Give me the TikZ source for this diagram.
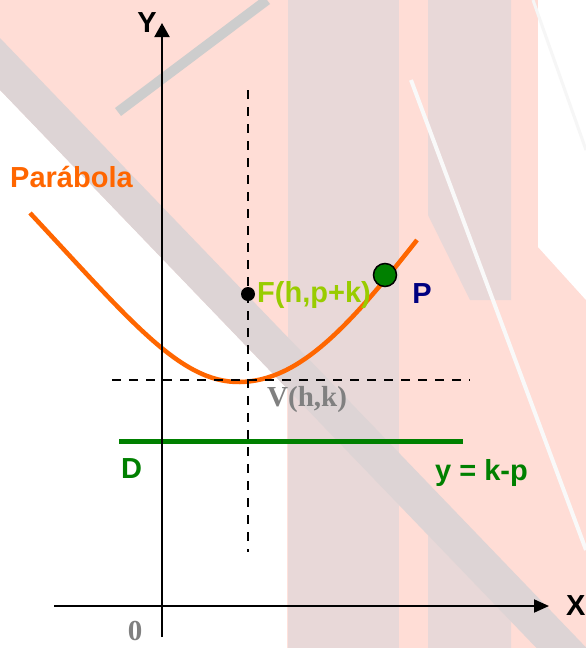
\documentclass[tikz,border=0pt]{standalone}
\usepackage{fontspec}
\setmainfont{Liberation Sans}
\newfontfamily\serifbold{Liberation Serif}
\usetikzlibrary{arrows.meta}
\definecolor{orng}{RGB}{255,102,0}
\definecolor{lime}{RGB}{153,204,0}
\definecolor{dgreen}{RGB}{0,128,0}
\definecolor{navyb}{RGB}{0,0,128}
\definecolor{grayt}{RGB}{128,128,128}
\definecolor{bgpink}{RGB}{255,221,214}
\definecolor{bgcol}{RGB}{232,216,216}
\definecolor{bgband}{RGB}{221,212,213}
\definecolor{bgline}{RGB}{205,205,205}
\tikzset{
  lbl/.style={font=\fontsize{29}{31}\selectfont\bfseries, inner sep=0pt},
  serlbl/.style={font=\fontsize{29}{31}\selectfont\serifbold\bfseries, inner sep=0pt, text=grayt},
  axisln/.style={line width=2pt, draw=black},
  dashln/.style={line width=2pt, dash pattern=on 9pt off 8pt},
  curveln/.style={line width=4.5pt, draw=orng},
  dirln/.style={line width=5pt, draw=dgreen}
}
\begin{document}
\begin{tikzpicture}[x=1pt,y=-1pt]
\useasboundingbox (0,0) rectangle (586,648);
% ---- watermark background ----
\fill[bgpink] (0,0) rectangle (586,648);
\fill[white] (538,0) -- (586,0) -- (586,300) -- (538,247) -- cycle;
\draw[line width=3pt, white!93!gray] (533,0) -- (586,150);
\fill[white] (0,90) -- (287,388.5) -- (287,648) -- (0,648) -- cycle;
\fill[bgcol] (288,0) rectangle (399,648);
\fill[bgcol] (428,0) -- (511,0) -- (511,300) -- (470,300) -- (428,215) -- cycle;
\fill[bgcol] (428,535) -- (511,621) -- (511,648) -- (428,648) -- cycle;
\fill[bgband] (0,38) -- (586,647.4) -- (586,648) -- (536.5,648) -- (0,90) -- cycle;
\draw[line width=10pt, bgline] (118,112) -- (267,0);
\draw[line width=4pt, white!95!gray] (411,80) -- (586,550);
% ---- parabola ----
\coordinate (c0) at (30,213);
\coordinate (cv) at (240,382);
\coordinate (c1) at (417,240);
\draw[curveln] (c0) .. controls (130,320) and (180,383) .. (cv)
  .. controls (300,381) and (350,325) .. (c1);
% ---- directrix ----
\coordinate (d0) at (119,441);
\coordinate (d1) at (463,441);
\draw[dirln] (d0) -- (d1);
% ---- axes ----
\coordinate (xs) at (54,606);
\coordinate (xe) at (549,606);
\coordinate (ys) at (162,637);
\coordinate (ye) at (162,23);
\draw[axisln, -{Triangle[length=15pt,width=13pt]}] (xs) -- (xe);
\draw[axisln, -{Triangle[length=14pt,width=15pt]}] (ys) -- (ye);
% ---- dashed guides ----
\coordinate (v0) at (248,90);
\coordinate (v1) at (248,552);
\coordinate (h0) at (112,380);
\coordinate (h1) at (470,380);
\draw[dashln] (v0) -- (v1);
\draw[dashln] (h0) -- (h1);
% ---- points ----
\node[circle, fill=black, inner sep=0pt, minimum size=14pt] (F) at (248,294) {};
\node[circle, fill=dgreen, draw=black, line width=1.5pt, inner sep=0pt, minimum size=23pt] (P) at (385,275) {};
% ---- labels ----
\node[lbl, text=orng, anchor=base west] (parab) at (10,187) {Parábola};
\node[lbl, anchor=base] (ylab) at (147,32) {Y};
\node[lbl, anchor=base west] (xlab) at (566,615) {X};
\node[serlbl, anchor=base] (zero) at (135,640) {0};
\node[lbl, text=lime, anchor=base west] (flab) at (257,302) {F(h,p+k)};
\node[lbl, text=navyb, anchor=base] (plab) at (422,303) {P};
\node[serlbl, anchor=base west] (vlab) at (267,406) {V(h,k)};
\node[lbl, text=dgreen, anchor=base west] (dlab) at (121,478) {D};
\node[lbl, text=dgreen, anchor=base west] (eqlab) at (435,480) {y = k-p};
\end{tikzpicture}
\end{document}
